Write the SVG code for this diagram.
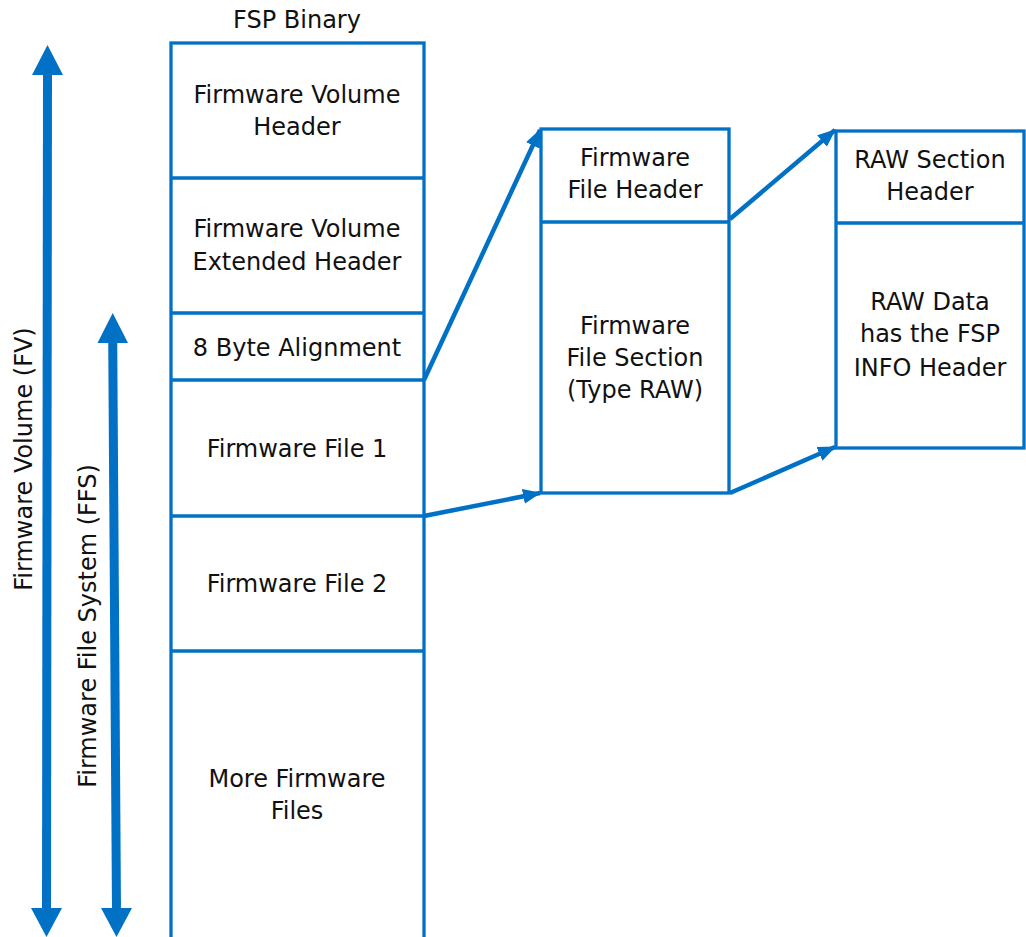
<svg xmlns="http://www.w3.org/2000/svg" width="1026" height="937" viewBox="0 0 1026 937">
<defs>
<style>
.box{fill:#ffffff;stroke:#0071c5;stroke-width:3.3}
.div{stroke:#0071c5;stroke-width:3.3;fill:none}
.t{font-family:"DejaVu Sans","Noto Sans",sans-serif;font-size:24px;fill:#111111;text-anchor:middle}
.conn{stroke:#0071c5;stroke-width:4.5;fill:none;marker-end:url(#ah)}
.shaft{stroke:#0071c5;stroke-width:9;fill:none}
.head{fill:#0071c5}
</style>
<marker id="ah" markerUnits="userSpaceOnUse" markerWidth="18" markerHeight="16" refX="17" refY="8" orient="auto">
<path d="M0,0.5 L18,8 L0,15.5 Z" fill="#0071c5"/>
</marker>
</defs>
<rect width="1026" height="937" fill="#ffffff"/>

<g id="fsp-binary">
<text class="t" x="297" y="28">FSP Binary</text>
<rect class="box" x="171" y="43" width="253" height="910"/>
</g>
<g id="fv-header">
<text class="t" x="297" y="103">Firmware Volume</text>
<text class="t" x="297" y="135">Header</text>
</g>
<g id="fv-ext-header">
<line class="div" x1="171" y1="178" x2="424" y2="178"/>
<text class="t" x="297" y="237">Firmware Volume</text>
<text class="t" x="297" y="270">Extended Header</text>
</g>
<g id="alignment">
<line class="div" x1="171" y1="313" x2="424" y2="313"/>
<text class="t" x="297" y="356">8 Byte Alignment</text>
</g>
<g id="file1">
<line class="div" x1="171" y1="380" x2="424" y2="380"/>
<text class="t" x="297" y="457">Firmware File 1</text>
</g>
<g id="file2">
<line class="div" x1="171" y1="516" x2="424" y2="516"/>
<text class="t" x="297" y="592">Firmware File 2</text>
</g>
<g id="more-files">
<line class="div" x1="171" y1="651" x2="424" y2="651"/>
<text class="t" x="297" y="787">More Firmware</text>
<text class="t" x="297" y="819">Files</text>
</g>

<g id="ffile">
<rect class="box" x="541" y="129" width="188" height="364"/>
<line class="div" x1="541" y1="222" x2="729" y2="222"/>
<g id="ffile-header">
<text class="t" x="635" y="166">Firmware</text>
<text class="t" x="635" y="198">File Header</text>
</g>
<g id="ffile-section">
<text class="t" x="635" y="334">Firmware</text>
<text class="t" x="635" y="366">File Section</text>
<text class="t" x="635" y="398">(Type RAW)</text>
</g>
</g>

<g id="raw">
<rect class="box" x="836" y="131" width="188" height="317"/>
<line class="div" x1="836" y1="223" x2="1024" y2="223"/>
<g id="raw-header">
<text class="t" x="930" y="168">RAW Section</text>
<text class="t" x="930" y="200">Header</text>
</g>
<g id="raw-data">
<text class="t" x="930" y="310">RAW Data</text>
<text class="t" x="930" y="342">has the FSP</text>
<text class="t" x="930" y="376">INFO Header</text>
</g>
</g>

<g id="fv-arrow">
<line class="shaft" x1="47.5" y1="70" x2="46.5" y2="912"/>
<polygon class="head" points="47.5,45 63,75 32,75"/>
<polygon class="head" points="46.5,937 62,908 31,908"/>
<text class="t" transform="translate(32,459) rotate(-90)" x="0" y="0">Firmware Volume (FV)</text>
</g>
<g id="ffs-arrow">
<line class="shaft" x1="112.7" y1="338" x2="116.5" y2="912"/>
<polygon class="head" points="112.7,313 128,343 97.5,343"/>
<polygon class="head" points="116.5,937 132,908 101,908"/>
<text class="t" transform="translate(96,626) rotate(-90)" x="0" y="0">Firmware File System (FFS)</text>
</g>

<g id="connectors">
<line class="conn" x1="424" y1="380" x2="540" y2="130"/>
<line class="conn" x1="424" y1="516" x2="540" y2="493"/>
<line class="conn" x1="730" y1="219" x2="835" y2="130"/>
<line class="conn" x1="730" y1="493" x2="835" y2="447"/>
</g>
</svg>
